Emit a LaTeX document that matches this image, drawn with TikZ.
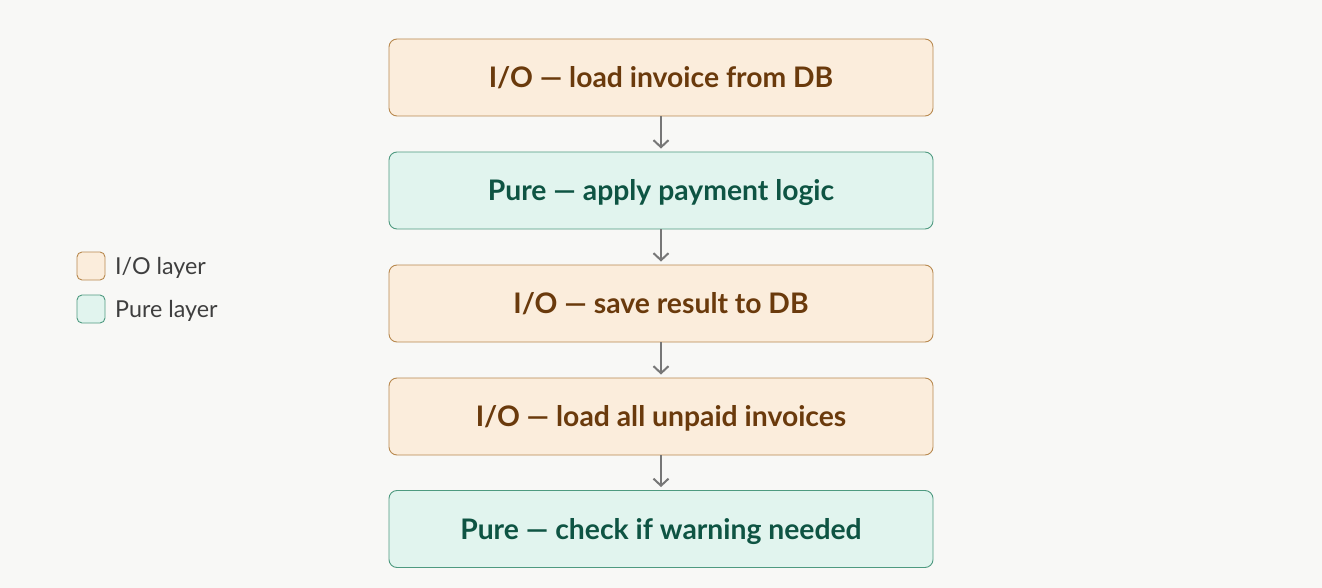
\documentclass[tikz,border=0pt]{standalone}
\usepackage{fontspec}
\setmainfont{Lato}
\usetikzlibrary{arrows.meta}
\definecolor{bg}{HTML}{F8F8F6}
\definecolor{iofill}{HTML}{FBEDDC}
\definecolor{iodraw}{HTML}{B8894F}
\definecolor{iotext}{HTML}{6A3A0C}
\definecolor{purefill}{HTML}{E1F4EE}
\definecolor{puredraw}{HTML}{4E9A80}
\definecolor{puretext}{HTML}{0E5443}
\definecolor{arrowc}{HTML}{777777}
\definecolor{legtext}{HTML}{3F3F3F}
\tikzset{
  stepbox/.style={rounded corners=8pt, minimum width=544pt, minimum height=77pt, line width=0.9pt, inner sep=0pt, text height=20.4pt, text depth=0pt, font=\fontsize{28.3}{33}\selectfont\bfseries},
  iobox/.style={stepbox, fill=iofill, draw=iodraw, text=iotext},
  purebox/.style={stepbox, fill=purefill, draw=puredraw, text=puretext},
  flow/.style={draw=arrowc, line width=2pt, -{Straight Barb[length=7pt,width=15pt,line width=2pt]}, shorten >=3pt},
  legsq/.style={rounded corners=5pt, minimum width=28pt, minimum height=28pt, line width=0.9pt, inner sep=0pt},
  legtxt/.style={anchor=west, text=legtext, text height=16.8pt, text depth=0pt, font=\fontsize{23.3}{27}\selectfont, inner sep=0pt}
}
\begin{document}
\begin{tikzpicture}[x=1pt,y=-1pt]
\useasboundingbox[fill=bg] (0,0) rectangle (1322,588);
\node[iobox] (b1) at (661,77.5) {I/O — load invoice from DB};
\node[purebox] (b2) at (661,190.5) {Pure — apply payment logic};
\node[iobox] (b3) at (661,303.5) {I/O — save result to DB};
\node[iobox] (b4) at (661,416.5) {I/O — load all unpaid invoices};
\node[purebox] (b5) at (661,529) {Pure — check if warning needed};
\draw[flow] (b1) -- (b2);
\draw[flow] (b2) -- (b3);
\draw[flow] (b3) -- (b4);
\draw[flow] (b4) -- (b5);
\node[legsq, fill=iofill, draw=iodraw] (l1) at (91,266) {};
\node[legsq, fill=purefill, draw=puredraw] (l2) at (91,309) {};
\node[legtxt] (t1) at (115,266.5) {I/O layer};
\node[legtxt] (t2) at (115,309.5) {Pure layer};
\end{tikzpicture}
\end{document}
